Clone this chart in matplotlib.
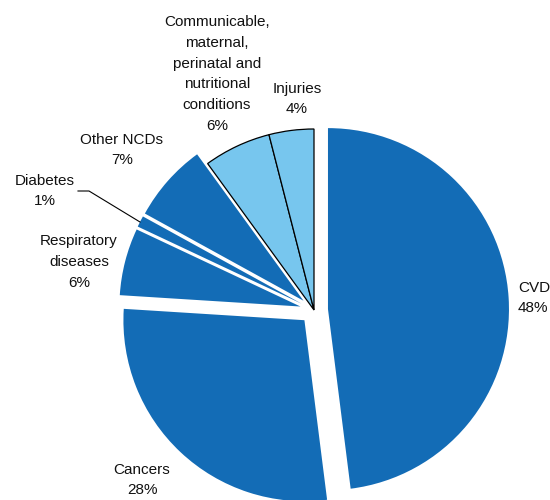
import matplotlib.pyplot as plt

causes = ["CVD", "Cancers", "Respiratory\ndiseases", "Diabetes", "Other NCDs",
          "Communicable,\nmaternal,\nperinatal and\nnutritional\nconditions", "Injuries"]
shares = [48, 28, 6, 1, 7, 6, 4]
is_ncd = [True, True, True, True, True, False, False]

dark_blue = "#136cb6"
light_blue = "#77c6ee"

# label centres in pixel coords (x from left, y from top)
label_pos = [(518, 298), (142, 480), (79, 262), (45, 191), (122, 150), (217, 74), (297, 99)]
label_ha = ["left", "center", "center", "center", "center", "center", "center"]

fig = plt.figure(figsize=(5.5, 5), dpi=100)
ax = fig.add_axes([0, 0, 1, 1])

colors = [dark_blue if n else light_blue for n in is_ncd]
# explode is in data units here (pixels)
explode = [14 if n else 0 for n in is_ncd]

wedges, _ = ax.pie(shares, colors=colors, explode=explode, startangle=90,
                   counterclock=False, center=(314, 500 - 310), radius=181,
                   wedgeprops=dict(linewidth=0))
for w, n in zip(wedges, is_ncd):
    if not n:
        w.set_edgecolor("black")
        w.set_linewidth(0.9)

for name, val, (x, y), ha in zip(causes, shares, label_pos, label_ha):
    ax.text(x, 500 - y, f"{name}\n{val}%", ha=ha, va="center", fontsize=11,
            family="Liberation Sans", linespacing=1.62, color="#111111")

# leader line for Diabetes
ax.plot([78, 89, 140], [500 - 191, 500 - 191, 500 - 222], color="black", lw=0.8)

ax.set_xlim(0, 550)
ax.set_ylim(0, 500)
ax.set_aspect("equal")
ax.axis("off")

fig.savefig("out.png", dpi=100)
